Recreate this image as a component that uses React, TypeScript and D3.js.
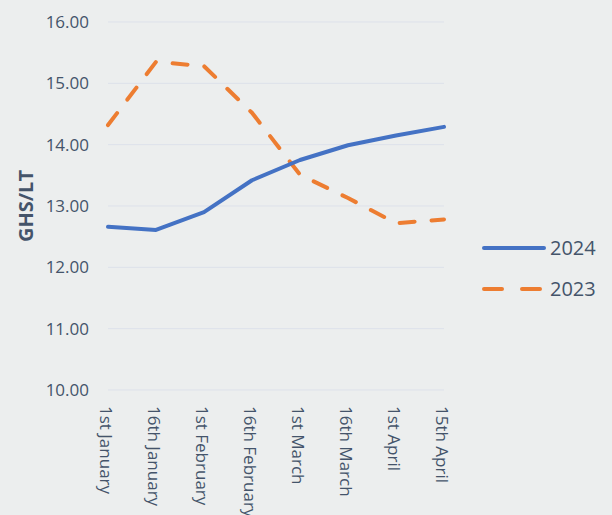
import React from "react";
import * as d3 from "d3";

const categories = ["1st January", "16th January", "1st February", "16th February", "1st March", "16th March", "1st April", "15th April"];
const series2024 = [12.66, 12.61, 12.9, 13.42, 13.75, 13.99, 14.15, 14.29];
const series2023 = [14.32, 15.35, 15.28, 14.52, 13.51, 13.13, 12.72, 12.78];
const yTicks = [10, 11, 12, 13, 14, 15, 16];
const seriesNames = ["2024", "2023"];

const W = 612, H = 515;
const BLUE = "#4472c4", ORANGE = "#ed7d31", TEXT = "#44546a";

export default function App() {
  const x = d3.scalePoint<string>().domain(categories).range([108, 444]).padding(0);
  const y = d3.scaleLinear().domain([10, 16]).range([390, 22]);
  const line = d3.line<number>().x((_, i) => x(categories[i]) as number).y(d => y(d));
  const font = "'Open Sans', 'Segoe UI', sans-serif";
  return (
    <svg width={W} height={H} style={{ position: "absolute", left: 0, top: 0 }} fontFamily={font}>
      <rect width={W} height={H} fill="#eceeee" />
      {yTicks.map(t => (
        <g key={t}>
          <line x1={108} x2={444} y1={y(t)} y2={y(t)} stroke="#dde1ea" strokeWidth={1} />
          <text x={89} y={y(t)} dy="0.35em" textAnchor="end" fontSize={17} fill={TEXT}>{t.toFixed(2)}</text>
        </g>
      ))}
      <text transform={`translate(26,206) rotate(-90)`} dy="0.35em" textAnchor="middle" fontSize={20} fontWeight="bold" fill={TEXT}>GHS/LT</text>
      {categories.map(c => (
        <text key={c} transform={`translate(${(x(c) as number) - 2},406) rotate(90)`} dy="0.35em" textAnchor="start" fontSize={17} fill={TEXT}>{c}</text>
      ))}
      <path d={line(series2023) || ""} fill="none" stroke={ORANGE} strokeWidth={4} strokeDasharray="15 17" strokeLinecap="round" strokeLinejoin="round" />
      <path d={line(series2024) || ""} fill="none" stroke={BLUE} strokeWidth={4} strokeLinecap="round" strokeLinejoin="round" />
      <g>
        <line x1={484} x2={544} y1={248} y2={248} stroke={BLUE} strokeWidth={4} strokeLinecap="round" />
        <text x={550} y={248} dy="0.35em" fontSize={20} fill={TEXT}>{seriesNames[0]}</text>
        <line x1={484} x2={544} y1={289} y2={289} stroke={ORANGE} strokeWidth={4} strokeDasharray="18 20" strokeLinecap="round" />
        <text x={550} y={289} dy="0.35em" fontSize={20} fill={TEXT}>{seriesNames[1]}</text>
      </g>
    </svg>
  );
}
